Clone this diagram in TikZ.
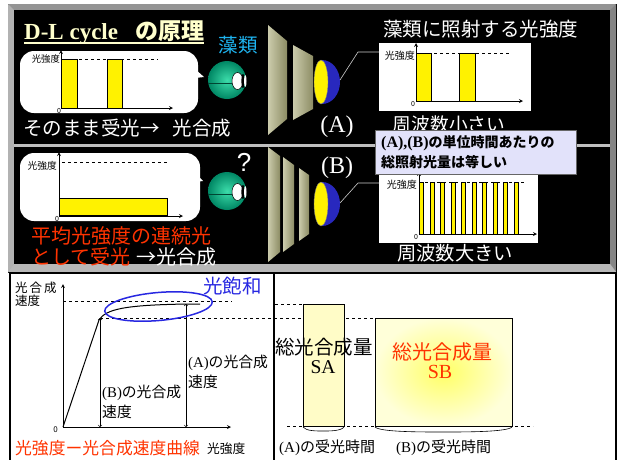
\documentclass[tikz,border=0pt]{standalone}
\usepackage{fontspec}
\setmainfont{Liberation Serif}
\setsansfont{Liberation Sans}
\newfontfamily\jpfont{Noto Sans CJK JP}
\newcommand\fsz[1]{\fontsize{#1}{#1}\selectfont}

\definecolor{cream}{RGB}{255,255,204}
\definecolor{algaecyan}{RGB}{30,180,240}
\definecolor{hotred}{RGB}{255,51,0}
\definecolor{noteblue}{RGB}{226,226,250}
\definecolor{domeblue}{RGB}{40,40,190}
\definecolor{satblue}{RGB}{40,40,225}
\definecolor{beamlight}{RGB}{255,255,230}
\definecolor{beamdark}{RGB}{140,140,100}
\definecolor{ballin}{RGB}{60,220,170}
\definecolor{ballout}{RGB}{0,135,100}

\tikzset{
  jptext/.style={font=\jpfont\fsz{#1}, inner sep=0pt},
  rmtext/.style={font=\rmfamily\fsz{#1}, inner sep=0pt},
  axisarrow/.style={-stealth, line width=0.8pt},
  level/.style={dashed, line width=0.5pt},
  bar/.style={fill=yellow, draw=black, line width=0.6pt},
  beam/.style={left color=beamdark!45!beamlight, middle color=beamlight, right color=beamdark},
  bubble/.style={fill=white, rounded corners=14pt},
  pointer/.style={draw=black!20, line width=0.6pt},
}

\begin{document}
\begin{tikzpicture}[x=1pt,y=-1pt]
\useasboundingbox (0,0) rectangle (620,459);

% upper panel with bevelled frame
\filldraw[fill=black!35, draw=black, line width=0.6pt] (8,4) rectangle (616,272);
\fill[black!42] (8,4) -- (616,4) -- (610,10) -- (14,10) -- cycle;
\fill[black!30] (8,4) -- (14,10) -- (14,264) -- (8,272) -- cycle;
\fill[black!48] (616,4) -- (610,10) -- (610,264) -- (616,272) -- cycle;
\fill[black!28] (8,272) -- (14,264) -- (610,264) -- (616,272) -- cycle;
\fill[black] (14,10) rectangle (610,264);
\draw[black!25, line width=3pt] (14,145.5) -- (610,145.5);

% lower panel
\draw[line width=1.5pt] (10,273) -- (616,273);
\draw[line width=2pt] (10,272) -- (10,462);
\draw[line width=2pt] (616,272) -- (616,462);
\draw[line width=1.5pt] (274,273) -- (274,462);

% title
\node[anchor=west, inner sep=0pt, text=cream, font=\rmfamily\bfseries\fsz{23}] (title) at (24,33)
  {D-L cycle\hspace{17pt}{\jpfont\bfseries の原理}};
\draw[cream, line width=1.5pt] ([yshift=-3pt]title.base west) -- ([yshift=-3pt]title.base east);
\node[jptext=19.5, text=algaecyan] (algae) at (238,45) {藻類};

% speech bubbles
\fill[bubble] (20,51) rectangle (198,113);
\fill[white] (186,61) -- (204,77) -- (186,79) -- cycle;
\fill[bubble] (20,153) rectangle (200,221);
\fill[white] (188,165) -- (203,181) -- (188,183) -- cycle;

% pulsed light in bubble
\draw[level] (61,59) -- (158,59);
\draw[bar] (61,59) rectangle (77,108);
\draw[bar] (107,59) rectangle (122,108);
\draw[axisarrow] (61,108) -- (61,50);
\draw[axisarrow] (61,108) -- (173,108);
\node[jptext=9.3, anchor=east] (intA) at (60,59) {光強度};
\node[jptext=7, anchor=north] (zeroA) at (59,108) {0};
\node[jptext=19.5, text=white, anchor=west] (recvA) at (23,128) {そのまま受光→\hspace{13pt}光合成};

% continuous light in bubble
\draw[level] (62,162) -- (167,162);
\draw[bar] (59,198) rectangle (167,215);
\draw[axisarrow] (59,216) -- (59,152);
\draw[axisarrow] (59,216) -- (183,216);
\node[jptext=9.7, anchor=east] (intB) at (57,166) {光強度};
\node[jptext=7, anchor=north] (zeroB) at (57,216) {0};
\node[jptext=20, text=hotred, anchor=west] (recvB) at (31,236) {平均光強度の連続光};
\node[jptext=20, anchor=west] (recvC) at (31,257) {\textcolor{hotred}{として受光}\hspace{6pt}\textcolor{white}{→光合成}};

% algae
\foreach \y in {80,191} {
  \shade[inner color=ballin, outer color=ballout] (227,\y) circle (19);
  \draw[ballout!50!black, line width=0.8pt] (208.3,\y+3) -- (232,\y+3);
  \draw[fill=white, line width=0.5pt] (237.5,\y+1) ellipse (5.5 and 8.5);
  \fill (243,\y+1) ellipse (1.6 and 7);
  \fill[white] (245.3,\y+1) ellipse (1.2 and 6);
}
\node[font=\sffamily\fsz{26}, text=white, inner sep=0pt] (ask) at (244,162) {?};

% light beams
\shade[beam] (268,25) -- (287,41) -- (287,119) -- (268,135) -- cycle;
\shade[beam] (293,45) -- (313,56) -- (313,109) -- (293,120) -- cycle;
\shade[beam] (268,147) -- (280,156) -- (280,252) -- (268,262) -- cycle;
\shade[beam] (283,157) -- (294,165) -- (294,244) -- (283,252) -- cycle;
\shade[beam] (299,168) -- (309,175) -- (309,234) -- (299,241) -- cycle;

% lenses
\foreach \y in {82,204} {
  \fill[domeblue] (322,\y-22) arc[start angle=-90, end angle=90, x radius=18, y radius=22] -- cycle;
  \draw[fill=yellow, draw=black!50, line width=0.4pt] (321,\y) ellipse (7 and 22);
}
\node[rmtext=24, text=white] (labA) at (337,127) {(A)};
\node[rmtext=24, text=white] (labB) at (337,168) {(B)};

% intensity seen by the algae
\node[jptext=19.5, text=white, anchor=west] (head) at (383,29) {藻類に照射する光強度};
\node[fill=white, anchor=north west, minimum width=152, minimum height=68, inner sep=0pt] (chartA) at (379,43) {};
\draw[level] (416,53) -- (510,53);
\draw[bar] (416,53) rectangle (431,101);
\draw[bar] (459,53) rectangle (475,101);
\draw[axisarrow] (416,101) -- (416,43);
\draw[axisarrow] (416,101) -- (523,101);
\node[jptext=10, anchor=east] (intC) at (415,56) {光強度};
\node[jptext=7, anchor=north] (zeroC) at (413,101) {0};
\node[jptext=18.7, text=white] (lowf) at (449,124) {周波数小さい};

\node[fill=white, anchor=north west, minimum width=159, minimum height=75, inner sep=0pt] (chartB) at (379,168) {};
\draw[level] (419,182) -- (525,182);
\foreach \i in {0,...,9}
  \draw[bar] (419.3+10.5*\i,182) rectangle ++(4,52);
\draw[axisarrow] (419,234) -- (419,172);
\draw[axisarrow] (419,234) -- (537,234);
\node[jptext=10, anchor=east] (intD) at (417,185) {光強度};
\node[jptext=7, anchor=north] (zeroD) at (416,234) {0};
\node[jptext=19.3, text=white] (highf) at (455,253) {周波数大きい};

\node[draw=black!60, fill=noteblue, anchor=north west, minimum width=201, minimum height=44,
  inner xsep=6pt, text width=189pt, align=left,
  font=\jpfont\bfseries\fontsize{14}{20}\selectfont] (note) at (375,130)
  {{\rmfamily\fsz{16}(A),(B)}の単位時間あたりの\\総照射光量は等しい};

\coordinate (lensA) at (340,80);
\coordinate (inA) at (379,52);
\draw[pointer] (lensA) -- (358,52) -- (inA);
\coordinate (lensB) at (340,203);
\coordinate (inB) at (379,183);
\draw[pointer] (lensB) -- (358,183) -- (inB);

% light curve
\draw[level] (63,301) -- (232,301);
\draw[level] (275,304) -- (303,304);
\draw[level] (100,318) -- (375,318);
\draw[level] (287,426) -- (533,426);
\draw[axisarrow] (63,427) -- (63,284);
\draw[axisarrow] (63,427) -- (231,427);
\node[jptext=12.5, anchor=west] (rate) at (15,288) {光\hspace{2pt}合\hspace{2pt}成};
\node[jptext=12.5, anchor=west] (rate2) at (15,301) {速度};
\node[jptext=8, anchor=east] (zeroE) at (58,430) {0};
\draw[line width=1pt] (63,427) -- (99,320) .. controls (106,309) and (125,305) .. (187,304) -- (200,304);
\draw[<->, line width=0.6pt] (100,318) -- (100,427);
\draw[<->, line width=0.6pt] (186,304) -- (186,427);
\node[jptext=14.8, anchor=west] (rateB) at (102,393) {\rmfamily(B)\jpfont の光合成};
\node[jptext=14.8, anchor=west] (rateB2) at (102,412) {速度};
\node[jptext=14.8, anchor=west] (rateA) at (188,363) {\rmfamily(A)\jpfont の光合成};
\node[jptext=14.8, anchor=west] (rateA2) at (188,382) {速度};
\draw[satblue, line width=1.5pt] (158.5,306.5) ellipse [x radius=54, y radius=14, rotate=5];
\node[jptext=19.5, text=satblue, anchor=west] (sat) at (203,286) {光飽和};
\node[jptext=16.8, text=hotred, anchor=west] (curve) at (15,448) {光強度ー光合成速度曲線};
\node[jptext=12.7, anchor=west] (xlab) at (207,449) {光強度};

% total photosynthesis
\draw[fill=yellow!22, line width=0.6pt] (303,304) rectangle (344,426);
\shadedraw[inner color=yellow!60, outer color=yellow!15, line width=0.6pt] (375,318) rectangle (512,426);
\draw[line width=0.6pt] (303,427) .. controls (306,431) and (316,431) .. (323,431) .. controls (330,431) and (341,431) .. (344,427);
\draw[line width=0.6pt] (375,427) .. controls (380,432) and (420,432) .. (443,432) .. controls (466,432) and (507,432) .. (512,427);
\node[jptext=19.5] (sumA) at (324,347) {総光合成量};
\node[rmtext=19.5] (SA) at (323,367) {SA};
\node[jptext=20, text=hotred] (sumB) at (442,352) {総光合成量};
\node[rmtext=20, text=hotred] (SB) at (440,372) {SB};
\node[jptext=15, anchor=west] (timeA) at (279,448) {\rmfamily(A)\jpfont の受光時間};
\node[jptext=15, anchor=west] (timeB) at (396,448) {\rmfamily(B)\jpfont の受光時間};

\end{tikzpicture}
\end{document}
